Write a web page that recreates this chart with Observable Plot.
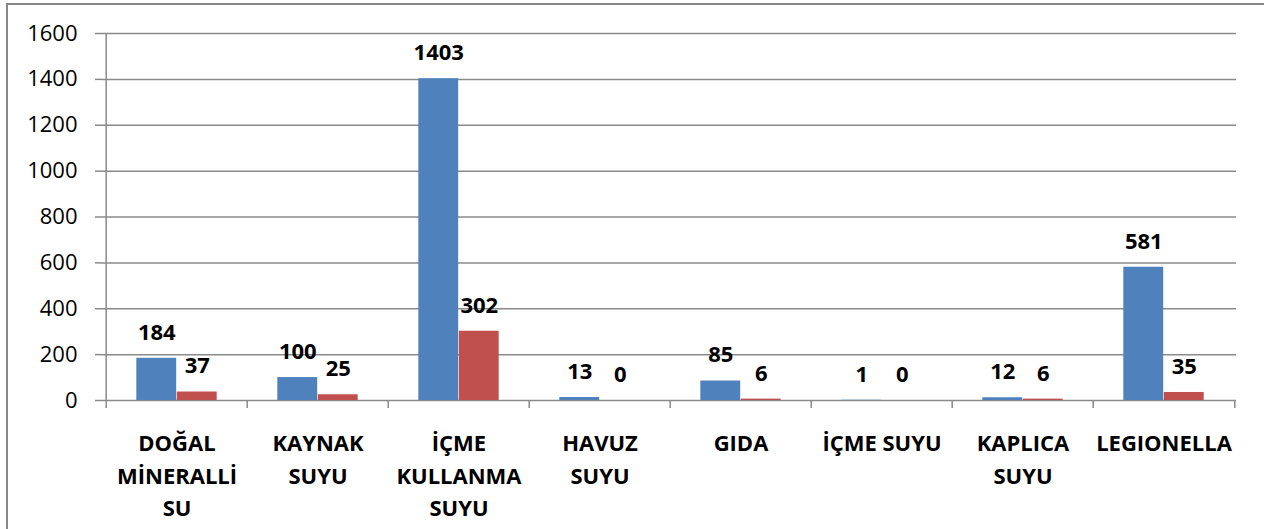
<!DOCTYPE html>
<html>
<head>
<meta charset="utf-8">
<script src="https://cdn.jsdelivr.net/npm/d3@7"></script>
<script src="https://cdn.jsdelivr.net/npm/@observablehq/plot@0.6"></script>
<style>
  html, body { margin: 0; padding: 0; background: #fff; }
  #wrap { position: relative; width: 1264px; height: 529px; overflow: hidden; }
  #border { position: absolute; left: 6px; top: 3px; width: 1300px; height: 600px;
    border-left: 2px solid #878787; border-top: 2px solid #878787; pointer-events: none; z-index: 2; }
  #chart { position: absolute; left: 0; top: 0; }
</style>
</head>
<body>
<div id="wrap"><div id="border"></div><div id="chart"></div></div>
<script>
const categories = ["DOĞAL\nMİNERALLİ\nSU", "KAYNAK\nSUYU", "İÇME\nKULLANMA\nSUYU", "HAVUZ\nSUYU", "GIDA", "İÇME SUYU", "KAPLICA\nSUYU", "LEGIONELLA"];
const seriesBlue = [184, 100, 1403, 13, 85, 1, 12, 581];
const seriesRed = [37, 25, 302, 0, 6, 0, 6, 35];
const yTicks = [0, 200, 400, 600, 800, 1000, 1200, 1400, 1600];

const W = 1264, H = 529, mL = 103, mR = 28, mT = 33, mB = 129;
const bw = (W - mL - mR) / categories.length;
const barW = 40.5;
const outer = (bw - 2 * barW) / 2;
const gray = "#8a8a8a";
const blue = "#4F81BD", red = "#C0504D";
const fs = 22;

const blueData = categories.map((c, i) => ({category: c, value: seriesBlue[i]}));
const redData = categories.map((c, i) => ({category: c, value: seriesRed[i]}));

const chart = Plot.plot({
  width: W, height: H,
  marginLeft: mL, marginRight: mR, marginTop: mT, marginBottom: mB,
  style: {fontFamily: "'Open Sans', sans-serif", fontSize: fs + "px", color: "black", background: "transparent"},
  x: {domain: categories, padding: 0, axis: null},
  y: {domain: [0, 1600], axis: null},
  marks: [
    Plot.ruleY(yTicks, {stroke: gray, strokeWidth: 1.5}),
    Plot.axisY(yTicks, {anchor: "left", label: null, tickSize: 8, tickPadding: 18, stroke: gray, strokeWidth: 1.5, fill: "black", fontSize: fs, tickFormat: d => String(d)}),
    Plot.ruleX([categories[0]], {x: d => d, dx: -bw / 2, y1: 0, y2: 1600, stroke: gray, strokeWidth: 1.5}),
    Plot.ruleX(categories, {x: d => d, dx: -bw / 2, y1: 0, y2: 0, insetBottom: -8, stroke: gray, strokeWidth: 1.5}),
    Plot.ruleX([categories[categories.length - 1]], {x: d => d, dx: bw / 2, y1: 0, y2: 0, insetBottom: -8, stroke: gray, strokeWidth: 1.5}),
    Plot.barY(blueData, {x: "category", y: "value", fill: blue, insetLeft: outer, insetRight: outer + barW}),
    Plot.barY(redData, {x: "category", y: "value", fill: red, insetLeft: outer + barW, insetRight: outer}),
    Plot.text(blueData, {x: "category", y: "value", text: d => String(d.value), dx: -barW / 2, dy: -25.6, fontWeight: "bold", fontSize: fs, fill: "black"}),
    Plot.text(redData, {x: "category", y: "value", text: d => String(d.value), dx: barW / 2, dy: -25.6, fontWeight: "bold", fontSize: fs, fill: "black"}),
    Plot.text(categories, {x: d => d, frameAnchor: "bottom", lineAnchor: "top", dy: 27.5, lineHeight: 1.48, fontWeight: "bold", fontSize: fs, fill: "black"})
  ]
});
document.getElementById("chart").appendChild(chart);
</script>
</body>
</html>
